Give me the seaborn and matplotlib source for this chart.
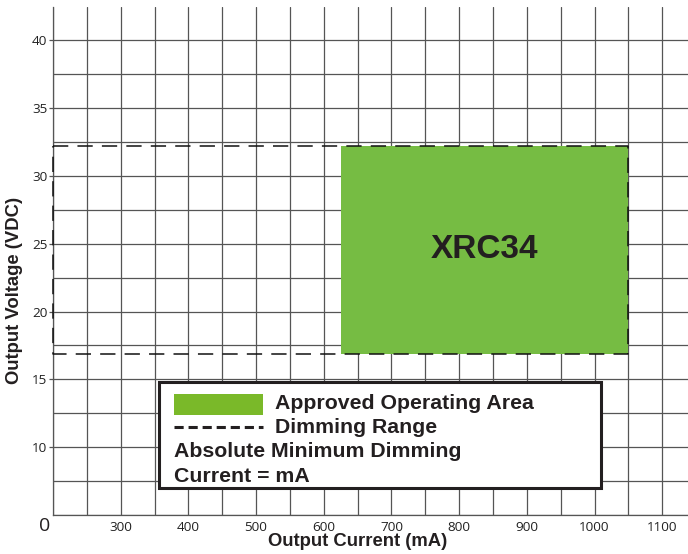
import matplotlib
matplotlib.use("Agg")
import matplotlib.pyplot as plt
from matplotlib.ticker import FixedLocator, MultipleLocator
from matplotlib.patches import Rectangle
from matplotlib.lines import Line2D
import seaborn as sns
import pandas as pd

# ---- data ----
x_ticks = [300, 400, 500, 600, 700, 800, 900, 1000, 1100]
y_ticks = [10, 15, 20, 25, 30, 35, 40]
approved_current = [625, 1050]      # mA
approved_voltage = [16.9, 32.2]     # VDC
dimming_current = [200, 1050]       # mA
dimming_voltage = [16.9, 32.2]      # VDC
model_name = "XRC34"
legend_labels = ["Approved Operating Area", "Dimming Range",
                 "Absolute Minimum Dimming", "Current = mA"]

sns.set_style("white")
plt.rcParams['font.family'] = ['Liberation Sans', 'DejaVu Sans']

W, H = 688, 554
fig = plt.figure(figsize=(W / 100, H / 100), dpi=100)
ax_l, ax_r, ax_t, ax_b = 53, 688, 7, 515
ax = fig.add_axes([ax_l / W, 1 - ax_b / H, (ax_r - ax_l) / W, (ax_b - ax_t) / H])

def px(x, y):
    return (x / W, 1 - y / H)

grid_c = '#555555'
ax.set_xlim(200, 1138)
ax.set_ylim(5, 42.45)
ax.xaxis.set_major_locator(FixedLocator(x_ticks))
ax.xaxis.set_minor_locator(MultipleLocator(50))
ax.yaxis.set_major_locator(FixedLocator(y_ticks))
ax.yaxis.set_minor_locator(MultipleLocator(2.5))
ax.grid(True, which='both', color=grid_c, lw=0.9, zorder=0)
ax.set_axisbelow(True)
for s in ['top', 'right']:
    ax.spines[s].set_visible(False)
for s in ['left', 'bottom']:
    ax.spines[s].set_color(grid_c)
    ax.spines[s].set_linewidth(0.9)

ax.tick_params(axis='x', which='both', length=0, pad=4, labelsize=9.7,
               labelcolor='#222222')
ax.tick_params(axis='y', which='major', length=3, width=0.9, color=grid_c,
               pad=1, labelsize=9.7, labelcolor='#222222', left=True)
ax.tick_params(axis='y', which='minor', length=0)
for lab in ax.get_xticklabels() + ax.get_yticklabels():
    lab.set_family(['Open Sans', 'DejaVu Sans'])

# approved operating area
ax.fill_between(approved_current, approved_voltage[0], approved_voltage[1],
                color='#76BC43', lw=0, zorder=2)

# dimming range dashed rectangle
rect_df = pd.DataFrame({
    'current': [dimming_current[0], dimming_current[1], dimming_current[1],
                dimming_current[0], dimming_current[0]],
    'voltage': [dimming_voltage[1], dimming_voltage[1], dimming_voltage[0],
                dimming_voltage[0], dimming_voltage[1]],
})
sns.lineplot(data=rect_df, x='current', y='voltage', sort=False, ax=ax,
             color='#111111', lw=1.1, dashes=False, zorder=3,
             estimator=None)
ax.lines[-1].set_linestyle((0, (10, 6)))
ax.lines[-1].set_clip_on(False)

ax.text(sum(approved_current) / 2, sum(approved_voltage) / 2, model_name,
        ha='center', va='center', fontsize=24, fontweight='bold',
        color='#231f20', zorder=4)

ax.set_xlabel("Output Current (mA)", fontsize=13.3, fontweight='bold',
              color='#231f20', va='center')
ax.xaxis.set_label_coords((358 - ax_l) / (ax_r - ax_l), (ax_b - 542) / (ax_b - ax_t))
ax.set_ylabel("Output Voltage (VDC)", fontsize=13.3, fontweight='bold',
              color='#231f20', va='center', ha='center')
ax.yaxis.set_label_coords((15 - ax_l) / (ax_r - ax_l), (ax_b - 290) / (ax_b - ax_t))

fig.text(*px(44.5, 526), "0", ha='center', va='center', fontsize=14,
         color='#231f20', family=['Open Sans', 'DejaVu Sans'])

# legend box (drawn manually)
lx0, ly0, lx1, ly1 = 159, 382, 601, 488
fig.patches.append(Rectangle(px(lx0, ly1), (lx1 - lx0) / W, (ly1 - ly0) / H,
                             transform=fig.transFigure, facecolor='white',
                             edgecolor='#231f20', lw=2.2, zorder=5))
fig.patches.append(Rectangle(px(174, 414.5), (263 - 174) / W, (414.5 - 394) / H,
                             transform=fig.transFigure, facecolor='#7AB929',
                             edgecolor='none', zorder=6))
fig.lines.append(Line2D([174 / W, 263 / W], [1 - 426.5 / H, 1 - 426.5 / H],
                        transform=fig.transFigure, color='#231f20', lw=2.2,
                        linestyle=(0, (3, 1.6)), zorder=6))
txt_kw = dict(fontsize=15.3, fontweight='bold', color='#231f20', va='baseline',
              ha='left', zorder=7)
fig.text(*px(275, 409), legend_labels[0], **txt_kw)
fig.text(*px(275, 433), legend_labels[1], **txt_kw)
fig.text(*px(174, 457), legend_labels[2], **txt_kw)
fig.text(*px(174, 482), legend_labels[3], **txt_kw)

fig.savefig("out.png", dpi=100)
